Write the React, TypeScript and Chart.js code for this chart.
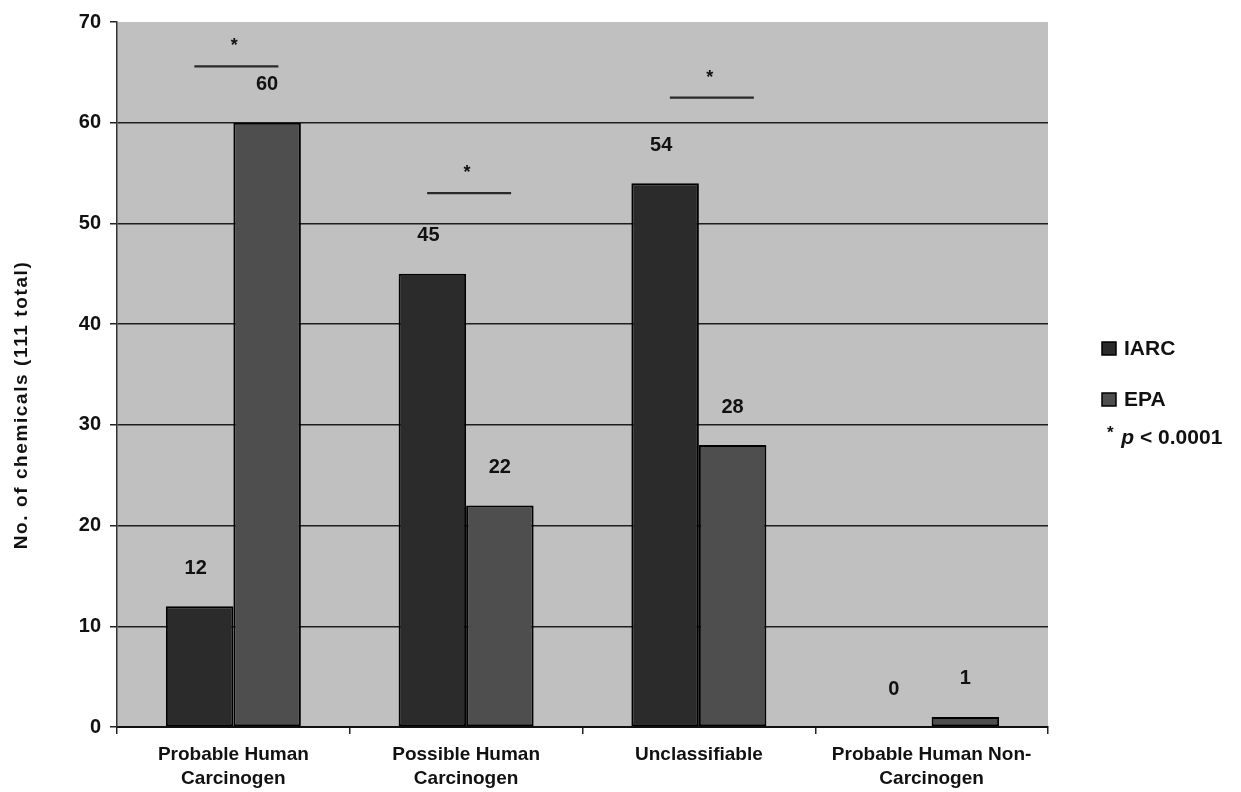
import React, { useEffect, useRef } from "react";
import { Chart, registerables } from "chart.js";

Chart.register(...registerables);

const categories = [
  ["Probable Human", "Carcinogen"],
  ["Possible Human", "Carcinogen"],
  ["Unclassifiable"],
  ["Probable Human Non-", "Carcinogen"],
];
const iarcValues = [12, 45, 54, 0];
const epaValues = [60, 22, 28, 1];
const seriesNames = ["IARC", "EPA"];
const sigCategoryIndex = [0, 1, 2];
const sigLevels = [65.6, 53, 62.5];
const sigText = "*";
const pValueNote = ["* ", "p", " < 0.0001"];
const yAxisTitle = "No. of chemicals (111 total)";

const FONT = "'Liberation Sans', Arial, sans-serif";
const IARC_COLOR = "#2b2b2b";
const EPA_COLOR = "#4e4e4e";

const decorPlugin = {
  id: "decor",
  beforeDraw(chart: any) {
    const { ctx, chartArea } = chart;
    ctx.save();
    ctx.fillStyle = "#c0c0c0";
    ctx.fillRect(chartArea.left, chartArea.top, chartArea.right - chartArea.left, chartArea.bottom - chartArea.top);
    ctx.restore();
  },
  afterDatasetsDraw(chart: any) {
    const { ctx } = chart;
    ctx.save();
    ctx.fillStyle = "#111";
    ctx.font = `bold 20px ${FONT}`;
    ctx.textAlign = "center";
    ctx.textBaseline = "middle";
    chart.data.datasets.forEach((ds: any, di: number) => {
      const meta = chart.getDatasetMeta(di);
      meta.data.forEach((el: any, i: number) => {
        ctx.fillText(String(ds.data[i]), el.x - (di === 0 ? 4 : 0), el.y - 38);
      });
    });
    ctx.restore();
  },
  afterDraw(chart: any) {
    const { ctx, chartArea, scales } = chart;
    const xs = scales.x;
    const ys = scales.y;
    ctx.save();
    // y-axis title (stretched like the reference)
    ctx.save();
    ctx.translate(22, 405);
    ctx.rotate(-Math.PI / 2);
    ctx.fillStyle = "#111";
    ctx.font = `bold 19px ${FONT}`;
    ctx.textAlign = "center";
    ctx.textBaseline = "middle";
    (ctx as any).letterSpacing = "1.6px";
    ctx.fillText(yAxisTitle, 0, 0);
    (ctx as any).letterSpacing = "0px";
    ctx.restore();
    // significance markers
    sigCategoryIndex.forEach((ci, k) => {
      const cx = xs.getPixelForValue(ci) + 3 + (ci === 2 ? 10 : 0);
      const y = ys.getPixelForValue(sigLevels[k]);
      ctx.strokeStyle = "#2a2a2a";
      ctx.lineWidth = 2.2;
      ctx.beginPath();
      ctx.moveTo(cx - 42, y);
      ctx.lineTo(cx + 42, y);
      ctx.stroke();
      ctx.fillStyle = "#111";
      ctx.font = `bold 18px ${FONT}`;
      ctx.textAlign = "center";
      ctx.textBaseline = "middle";
      ctx.fillText(sigText, cx - 2, y - 20);
    });
    // legend
    const lx = chartArea.right + 54;
    const colors = [IARC_COLOR, EPA_COLOR];
    const rows = [348, 399];
    seriesNames.forEach((name, i) => {
      const y = rows[i];
      ctx.fillStyle = colors[i];
      ctx.fillRect(lx, y - 6, 14, 13);
      ctx.strokeStyle = "#000";
      ctx.lineWidth = 1.5;
      ctx.strokeRect(lx, y - 6, 14, 13);
      ctx.fillStyle = "#111";
      ctx.font = `bold 21px ${FONT}`;
      ctx.textAlign = "left";
      ctx.textBaseline = "middle";
      ctx.fillText(name, lx + 22, y + 1);
    });
    // p-value note
    let px = lx + 5;
    const py = 438;
    ctx.fillStyle = "#111";
    ctx.textBaseline = "middle";
    ctx.textAlign = "left";
    ctx.font = `bold 17px ${FONT}`;
    ctx.fillText(pValueNote[0], px, py - 5);
    px += ctx.measureText(pValueNote[0]).width + 3;
    ctx.font = `italic bold 21px ${FONT}`;
    ctx.fillText(pValueNote[1], px, py);
    px += ctx.measureText(pValueNote[1]).width;
    ctx.font = `bold 21px ${FONT}`;
    ctx.fillText(pValueNote[2], px, py);
    ctx.restore();
  },
};

export default function App() {
  const ref = useRef<HTMLCanvasElement | null>(null);
  useEffect(() => {
    if (!ref.current) return;
    const chart = new Chart(ref.current, {
      type: "bar",
      data: {
        labels: categories as any,
        datasets: [
          {
            label: seriesNames[0],
            data: iarcValues,
            backgroundColor: IARC_COLOR,
            borderColor: "#000",
            borderWidth: 2,
            borderSkipped: false,
            categoryPercentage: 0.58,
            barPercentage: 1.0,
          },
          {
            label: seriesNames[1],
            data: epaValues,
            backgroundColor: EPA_COLOR,
            borderColor: "#000",
            borderWidth: 2,
            borderSkipped: false,
            categoryPercentage: 0.58,
            barPercentage: 1.0,
          },
        ],
      },
      options: {
        animation: false,
        responsive: false,
        maintainAspectRatio: false,
        devicePixelRatio: 1,
        layout: { padding: { left: 8, right: 193, top: 22, bottom: 0 } },
        plugins: {
          legend: { display: false },
          tooltip: { enabled: false },
        },
        scales: {
          x: {
            offset: true,
            grid: {
              offset: true,
              drawOnChartArea: false,
              drawTicks: true,
              tickLength: 7,
              color: "#222",
              lineWidth: 1.5,
            },
            border: { display: true, color: "#111", width: 2 },
            ticks: {
              color: "#111",
              padding: 9,
              maxRotation: 0,
              autoSkip: false,
              font: { family: FONT, size: 19, weight: "bold", lineHeight: 1.27 },
            },
            afterFit(scale: any) {
              scale.height = 65;
            },
          },
          y: {
            min: 0,
            max: 70,
            ticks: {
              stepSize: 10,
              color: "#111",
              padding: 9,
              font: { family: FONT, size: 20, weight: "bold" },
            },
            grid: {
              color: (c: any) => (c.tick && c.tick.value === 70 ? "rgba(0,0,0,0)" : "#1e1e1e"),
              lineWidth: 1.5,
              tickLength: 7,
              tickColor: "#222",
              drawTicks: true,
            },
            border: { display: true, color: "#333", width: 1.5 },
            title: { display: false },
            afterFit(scale: any) {
              scale.width = 109;
            },
          },
        },
      },
      plugins: [decorPlugin],
    });
    return () => chart.destroy();
  }, []);
  return (
    <div style={{ position: "fixed", left: 0, top: 0, width: 1241, height: 792, background: "#fff" }}>
      <canvas ref={ref} width={1241} height={792} style={{ width: 1241, height: 792 }} />
    </div>
  );
}
